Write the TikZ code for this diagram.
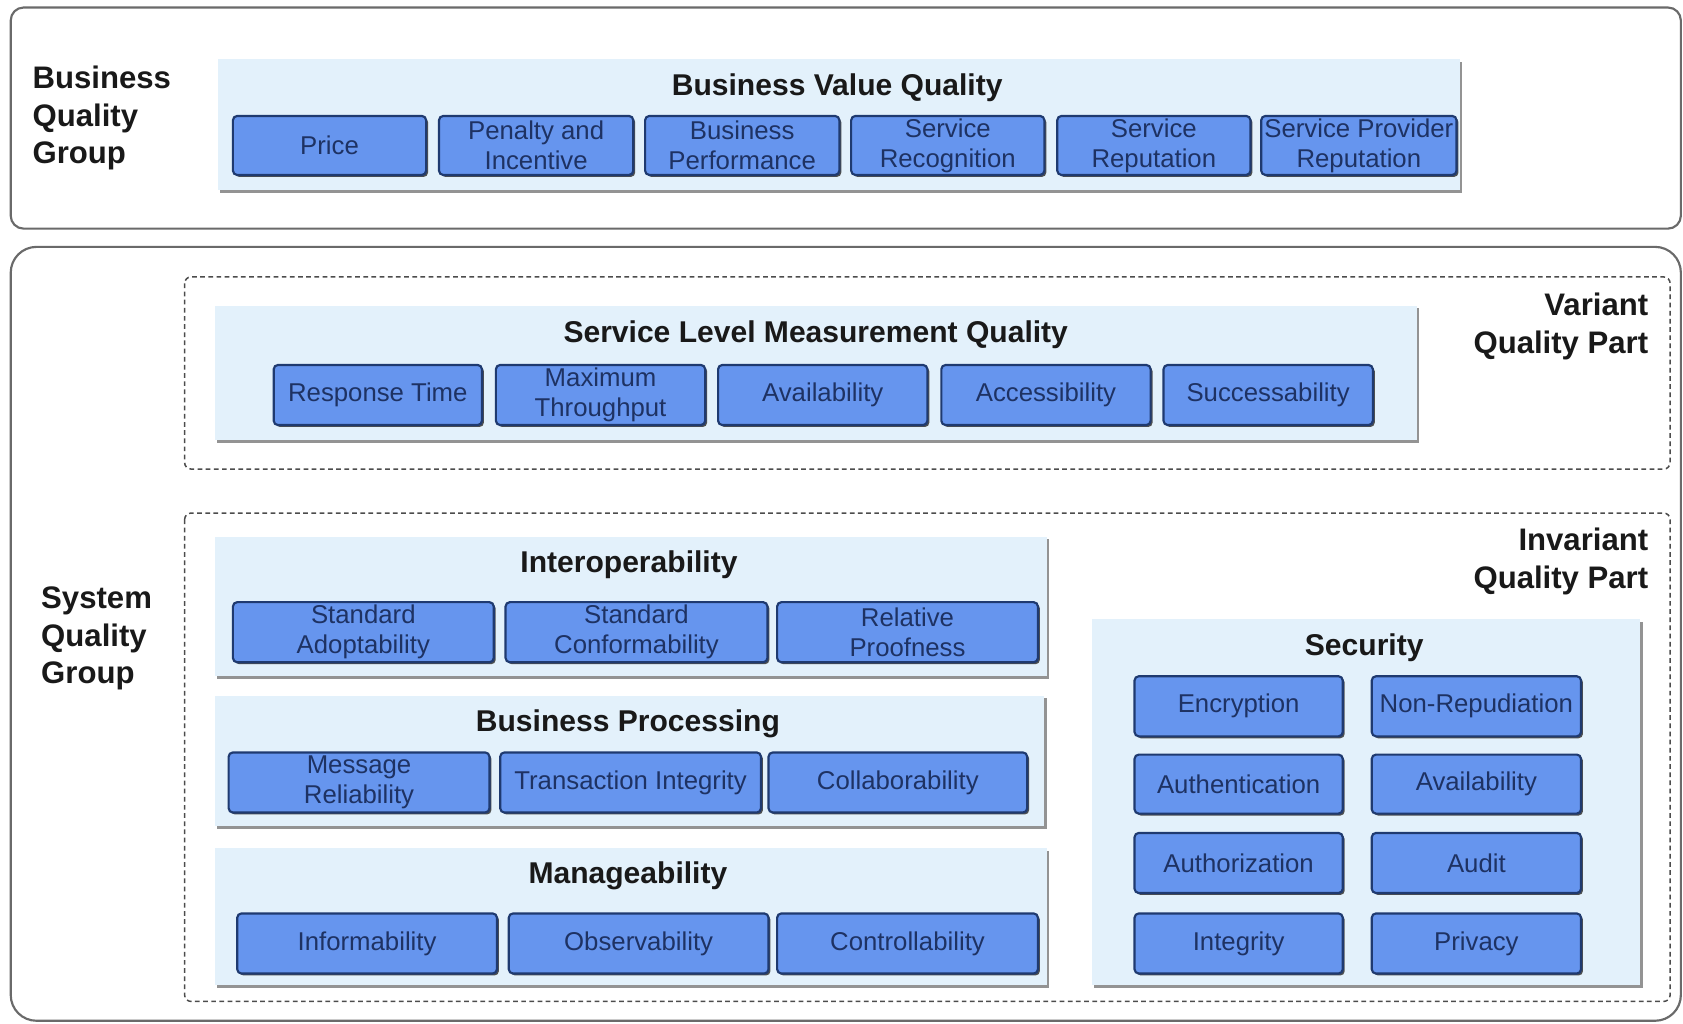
\documentclass[tikz,border=0pt]{standalone}
\usepackage{fontspec}
\setmainfont{Liberation Sans}
\usetikzlibrary{shadows}
\definecolor{sbfill}{HTML}{6695EE}
\definecolor{sbdraw}{HTML}{1F3A70}
\definecolor{sbtext}{HTML}{1E3263}
\definecolor{panelblue}{HTML}{E3F1FB}
\definecolor{outergray}{HTML}{6A6A6A}
\tikzset{
 sb/.style={draw=sbdraw, line width=1pt, fill=sbfill, rounded corners=2pt, text=sbtext, align=center,
   font=\fontsize{12}{14}\selectfont, inner sep=0pt,
   drop shadow={shadow xshift=0.9pt, shadow yshift=-0.9pt, fill=black!80, opacity=0.85}},
 panel/.style={fill=panelblue, inner sep=0pt,
   drop shadow={shadow xshift=1.2pt, shadow yshift=-1.2pt, fill=gray!85, opacity=1}},
 ptitle/.style={font=\bfseries\fontsize{14}{16}\selectfont, text=black!90, inner sep=0pt},
 glabel/.style={font=\bfseries\fontsize{14.5}{17.5}\selectfont, text=black!90, inner sep=0pt},
 outerbox/.style={draw=outergray, line width=1pt},
 dashbox/.style={draw=black!70, line width=0.7pt, dash pattern=on 2.2pt off 1.6pt, rounded corners=3pt},
}
\newcommand\qbox[6]{\node[sb, minimum width={(#4-#2)*0.5pt}, minimum height={(#5-#3)*0.5pt}] (#1) at ({(#2+#4)/2},{(#3+#5)/2}) {#6};}
\newcommand\qpanel[5]{\node[panel, minimum width={(#4-#2)*0.5pt}, minimum height={(#5-#3)*0.5pt}] (#1) at ({(#2+#4)/2},{(#3+#5)/2}) {};}
\begin{document}
\begin{tikzpicture}[x=0.5pt,y=-0.5pt]
\useasboundingbox (0,0) rectangle (1568,954);
% outer boxes
\draw[outerbox, rounded corners=6pt] (10,7) rectangle (1566,213);
\draw[outerbox, rounded corners=12pt] (10,230) rectangle (1566,951);
\draw[dashbox] (172,258) rectangle (1556,437);
\draw[dashbox] (172,478) rectangle (1556,933);
% group labels
\node[glabel, anchor=west, align=left] (bqg) at (30,110) {Business\\Quality\\Group};
\node[glabel, anchor=west, align=left] (sqg) at (38,595) {System\\Quality\\Group};
\node[glabel, anchor=east, align=right] (vqp) at (1536,304) {Variant\\Quality Part};
\node[glabel, anchor=east, align=right] (iqp) at (1536,523) {Invariant\\Quality Part};
% Business Value Quality
\qpanel{bvq}{203}{55}{1360}{177}
\node[ptitle] (tbvq) at (780,82) {Business Value Quality};
\qbox{price}{217}{108}{397}{163}{Price}
\qbox{pen}{409}{108}{590}{163}{Penalty and\\Incentive}
\qbox{bperf}{601}{108}{782}{163}{Business\\Performance}
\qbox{srec}{793}{108}{973}{163}{Service\\Recognition}
\qbox{srep}{985}{108}{1165}{163}{Service\\Reputation}
\qbox{sprep}{1175}{108}{1357}{163}{Service Provider\\Reputation}
% Service Level Measurement Quality
\qpanel{slmq}{200}{285}{1320}{410}
\node[ptitle] (tslmq) at (760,312) {Service Level Measurement Quality};
\qbox{rt}{255}{340}{449}{396}{Response Time}
\qbox{mt}{462}{340}{657}{396}{Maximum\\Throughput}
\qbox{av}{669}{340}{864}{396}{Availability}
\qbox{ac}{877}{340}{1072}{396}{Accessibility}
\qbox{su}{1084}{340}{1279}{396}{Successability}
% Interoperability
\qpanel{iop}{200}{500}{975}{630}
\node[ptitle] (tiop) at (586,526) {Interoperability};
\qbox{sa}{217}{561}{460}{617}{Standard\\Adoptability}
\qbox{sc}{471}{561}{715}{617}{Standard\\Conformability}
\qbox{rp}{724}{561}{967}{617}{Relative\\Proofness}
% Business Processing
\qpanel{bp}{200}{648}{973}{770}
\node[ptitle] (tbp) at (585,674) {Business Processing};
\qbox{mr}{213}{701}{456}{757}{Message\\Reliability}
\qbox{ti}{466}{701}{709}{757}{Transaction Integrity}
\qbox{co}{716}{701}{957}{757}{Collaborability}
% Manageability
\qpanel{man}{200}{790}{975}{918}
\node[ptitle] (tman) at (585,816) {Manageability};
\qbox{inf}{221}{851}{463}{907}{Informability}
\qbox{obs}{474}{851}{716}{907}{Observability}
\qbox{con}{724}{851}{967}{907}{Controllability}
% Security
\qpanel{sec}{1017}{577}{1528}{918}
\node[ptitle] (tsec) at (1271,603) {Security};
\qbox{enc}{1057}{630}{1251}{686}{Encryption}
\qbox{nrep}{1278}{630}{1473}{686}{Non-Repudiation}
\qbox{authn}{1057}{703}{1251}{758}{Authentication}
\qbox{sav}{1278}{703}{1473}{758}{Availability}
\qbox{authz}{1057}{776}{1251}{832}{Authorization}
\qbox{aud}{1278}{776}{1473}{832}{Audit}
\qbox{integ}{1057}{851}{1251}{907}{Integrity}
\qbox{priv}{1278}{851}{1473}{907}{Privacy}
\end{tikzpicture}
\end{document}
